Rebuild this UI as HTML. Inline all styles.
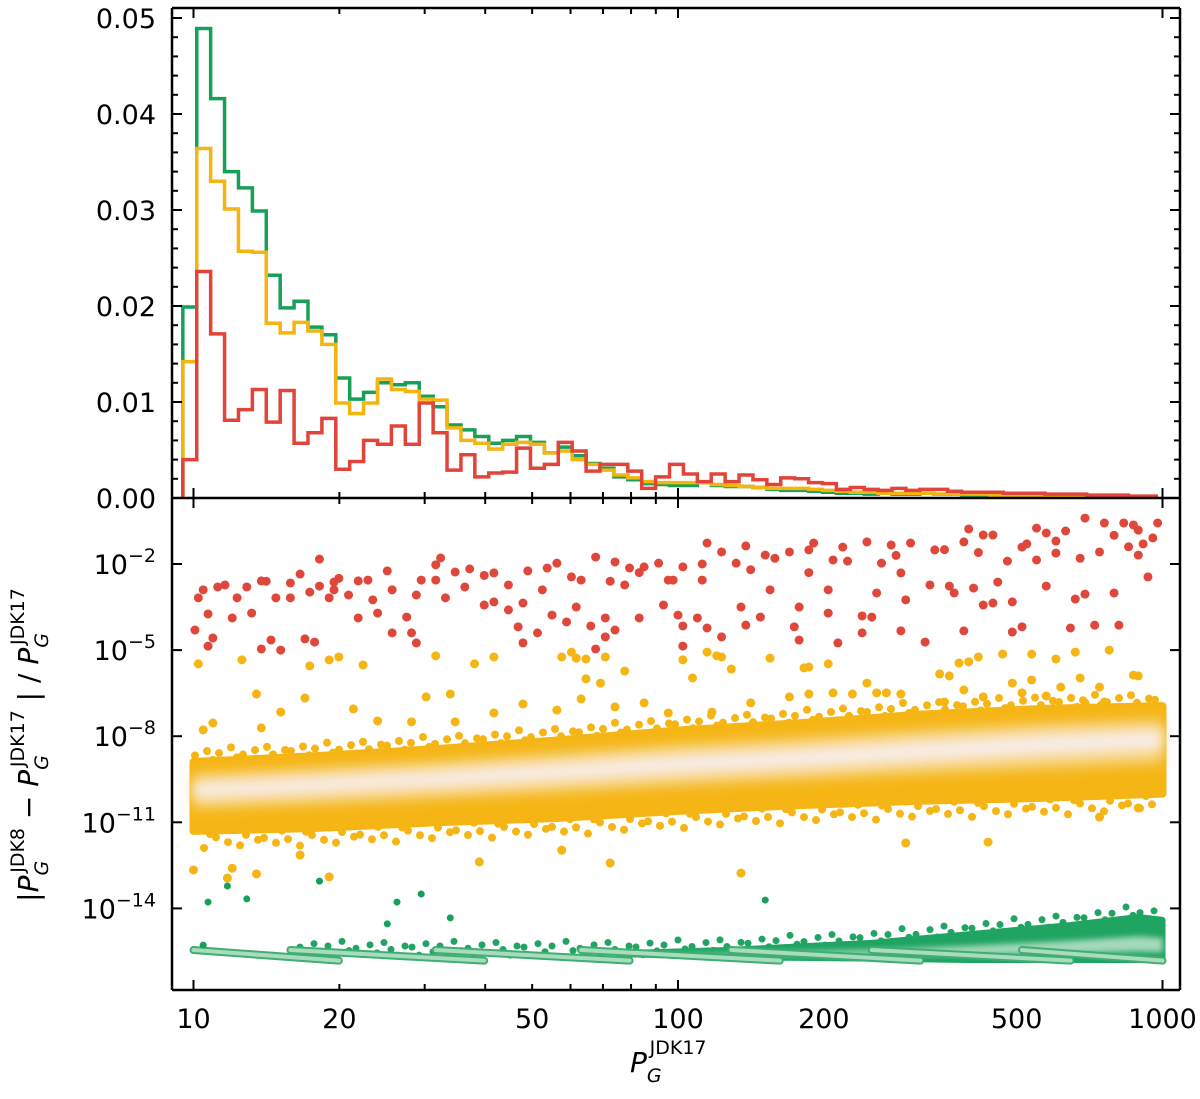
<!DOCTYPE html>
<html><head><meta charset="utf-8"><style>
html,body{margin:0;padding:0;background:#fff;}
svg{display:block;font-family:"DejaVu Sans","Liberation Sans",sans-serif;}
</style></head><body>
<svg id="chart" width="1200" height="1099" viewBox="0 0 1200 1099" xmlns="http://www.w3.org/2000/svg">
<defs>
<filter id="blur6" x="-10%" y="-50%" width="120%" height="200%"><feGaussianBlur stdDeviation="6"/></filter>
<filter id="blur3" x="-10%" y="-50%" width="120%" height="200%"><feGaussianBlur stdDeviation="3"/></filter>
<clipPath id="clipTop"><rect x="172" y="8" width="1008" height="490"/></clipPath>
<clipPath id="clipBot"><rect x="172" y="498" width="1008" height="492"/></clipPath>
</defs>
<g id="hist" clip-path="url(#clipTop)"></g>
<g id="scatter" clip-path="url(#clipBot)"></g>
<g id="axes"></g>
<text transform="translate(38,745) rotate(-90)" text-anchor="middle" font-size="28" fill="#000">|<tspan font-style="italic">P</tspan><tspan font-size="19" dy="10" font-style="italic">G</tspan><tspan font-size="19" dy="-24" dx="-12">JDK8</tspan><tspan dy="14"> − </tspan><tspan font-style="italic">P</tspan><tspan font-size="19" dy="10" font-style="italic">G</tspan><tspan font-size="19" dy="-24" dx="-12">JDK17</tspan><tspan dy="14"> | / </tspan><tspan font-style="italic">P</tspan><tspan font-size="19" dy="10" font-style="italic">G</tspan><tspan font-size="19" dy="-24" dx="-12">JDK17</tspan></text>
<text x="630" y="1072" font-size="28" fill="#000"><tspan font-style="italic">P</tspan><tspan font-size="19" dy="10" font-style="italic">G</tspan><tspan font-size="19" dy="-28" dx="-12">JDK17</tspan></text>
</svg>
<script>
// ---------- data ----------
const binStartLog = 0.978;
const binWidthLog = 0.0287;
const histGreen = [0.0199,0.0489,0.0416,0.0340,0.0323,0.0299,0.0232,0.0198,0.0205,0.0178,0.0170,0.0125,0.0103,0.0110,0.0120,0.0118,0.0120,0.0106,0.0095,0.0076,0.0071,0.0064,0.0057,0.0060,0.0064,0.0058,0.0047,0.0053,0.0044,0.0036,0.0031,0.0022,0.0019,0.0015,0.0014,0.0013,0.0013,0.0016,0.0013,0.0012,0.0012,0.0011,0.0009,0.0008,0.0008,0.0007,0.0006,0.0005,0.0005,0.0004,0.0005,0.0004,0.0004,0.0005,0.0004,0.0004,0.0003,0.0003,0.0003,0.0003,0.0003,0.0002,0.0002,0.0002,0.0002,0.0002,0.0002,0.0001,0.0001,0.0001];
const histYellow = [0.0142,0.0364,0.0330,0.0301,0.0257,0.0256,0.0182,0.0172,0.0183,0.0174,0.0160,0.0099,0.0088,0.0099,0.0124,0.0113,0.0111,0.0103,0.0102,0.0073,0.0060,0.0057,0.0051,0.0056,0.0058,0.0056,0.0047,0.0049,0.0040,0.0035,0.0029,0.0024,0.0021,0.0017,0.0016,0.0016,0.0016,0.0016,0.0014,0.0013,0.0012,0.0011,0.0010,0.0010,0.0010,0.0009,0.0008,0.0007,0.0006,0.0006,0.0005,0.0005,0.0005,0.0005,0.0004,0.0004,0.0004,0.0004,0.0003,0.0003,0.0003,0.0003,0.0002,0.0002,0.0002,0.0002,0.0002,0.0001,0.0001,0.0001];
const histRed = [0.0040,0.0236,0.0171,0.0081,0.0092,0.0113,0.0079,0.0112,0.0057,0.0068,0.0083,0.0030,0.0038,0.0060,0.0056,0.0075,0.0056,0.0099,0.0068,0.0029,0.0045,0.0022,0.0026,0.0027,0.0052,0.0031,0.0035,0.0058,0.0049,0.0028,0.0035,0.0035,0.0028,0.0010,0.0022,0.0035,0.0025,0.0017,0.0025,0.0017,0.0024,0.0019,0.0014,0.0021,0.0020,0.0016,0.0015,0.0009,0.0011,0.0009,0.0008,0.0010,0.0008,0.0009,0.0009,0.0007,0.0006,0.0006,0.0006,0.0005,0.0005,0.0005,0.0004,0.0004,0.0004,0.0003,0.0003,0.0003,0.0002,0.0002];

const redLogP = [1.003,1.01,1.02,1.03,1.03,1.04,1.05,1.065,1.08,1.09,1.11,1.12,1.14,1.14,1.16,1.17,1.18,1.2,1.2,1.22,1.23,1.24,1.25,1.26,1.26,1.28,1.29,1.29,1.32,1.34,1.34,1.36,1.37,1.38,1.40,1.41,1.41,1.44,1.45,1.46,1.46,1.47,1.50,1.51,1.50,1.52,1.54,1.56,1.57,1.60,1.62,1.62,1.65,1.65,1.67,1.68,1.68,1.69,1.71,1.73,1.74,1.75,1.77,1.78,1.79,1.80,1.82,1.83,1.83,1.85,1.85,1.87,1.87,1.89,1.90,1.92,1.93,1.96,1.97,1.98,1.99,2.00,2.01,2.01,2.01,2.04,2.05,2.06,2.06,2.09,2.09,2.12,2.13,2.14,2.14,2.17,2.18,2.19,2.23,2.24,2.25,2.25,2.27,2.28,2.31,2.31,2.32,2.33,2.34,2.38,2.38,2.39,2.40,2.41,2.42,2.44,2.46,2.46,2.47,2.48,2.51,2.52,2.53,2.56,2.57,2.59,2.59,2.60,2.61,2.63,2.63,2.65,2.65,2.66,2.69,2.69,2.71,2.71,2.74,2.74,2.76,2.76,2.78,2.80,2.81,2.82,2.84,2.84,2.86,2.87,2.88,2.90,2.91,2.92,2.94,2.95,2.95,2.97,2.98,2.99,2.35,2.45,2.55,2.62,2.68,2.72,2.78,2.83,2.9,2.93,2.96,2.05,2.15,2.2,2.27,1.92,1.86,1.72,1.6,1.3,1.15];
const redLogR = [-4.30,-3.18,-2.9,-4.86,-3.74,-4.58,-2.8,-2.73,-3.88,-3.18,-2.8,-3.71,-4.96,-2.59,-4.65,-3.18,-5.0,-2.66,-3.18,-2.35,-4.61,-2.98,-4.72,-1.83,-2.77,-3.18,-2.9,-2.63,-3.08,-2.59,-3.88,-2.56,-3.25,-3.71,-2.24,-4.4,-2.9,-3.85,-4.4,-4.75,-3.08,-2.56,-2.03,-1.79,-2.56,-3.18,-2.28,-2.8,-2.17,-3.43,-2.31,-3.32,-3.6,-2.73,-4.19,-4.75,-3.36,-2.24,-4.4,-2.14,-3.78,-1.97,-4.02,-2.45,-3.5,-2.56,-4.16,-1.76,-4.96,-4.54,-3.88,-1.93,-4.3,-2.73,-2.14,-3.88,-2.1,-1.97,-3.43,-2.56,-2.56,-3.78,-4.86,-2.10,-4.16,-3.88,-2.56,-1.27,-4.23,-1.58,-4.54,-1.97,-3.5,-4.13,-1.37,-3.85,-1.69,-2.9,-1.58,-4.19,-3.5,-4.65,-1.51,-1.27,-2.9,-3.71,-1.86,-4.75,-1.41,-4.4,-3.81,-1.23,-3.85,-3.01,-1.97,-1.34,-4.33,-2.31,-3.25,-1.27,-4.72,-2.73,-1.51,-2.77,-3.01,-4.33,-1.23,-0.78,-2.84,-0.99,-3.43,-0.99,-3.36,-2.63,-4.37,-3.32,-4.19,-1.41,-0.75,-1.86,-2.77,-0.92,-1.62,-0.85,-4.23,-3.22,-3.05,-0.40,-4.13,-1.58,-0.57,-3.01,-4.13,-0.57,-0.64,-1.69,-0.82,-2.45,-1.09,-0.57,-1.9,-1.7,-1.5,-1.6,-1.9,-1.3,-1.2,-1.8,-1.0,-1.4,-1.3,-2.0,-2.2,-1.8,-2.3,-2.3,-2.6,-2.9,-2.4,-2.5,-2.6];

const yelLogP = [1.01,1.10,1.13,1.24,1.28,1.30,1.35,1.23,1.18,1.33,1.50,1.48,1.53,1.58,1.62,1.76,1.78,1.79,1.81,1.81,1.84,1.85,1.89,1.80,1.02,1.04,1.14,1.38,1.45,1.54,1.62,1.68,1.75,1.87,1.93,2.01,2.03,2.06,2.08,2.09,2.11,2.19,2.26,2.27,2.31,2.39,2.41,2.46,2.54,2.56,2.58,2.60,2.62,2.59,2.67,2.69,2.73,2.73,2.76,2.78,2.79,2.82,2.83,2.87,2.89,2.94,2.95,1.98,2.07,2.15,2.23,2.27,2.32,2.36,2.43,2.55,2.63,2.71,2.84,2.88,1.0,1.07,1.13,1.28,1.08,1.59,2.13,1.86,2.64,2.47,2.95,2.87,1.76,1.22];
const yelLogR = [-5.48,-5.34,-6.53,-5.55,-5.34,-5.24,-5.52,-6.67,-7.16,-7.05,-5.2,-6.63,-6.53,-5.48,-5.24,-5.24,-5.07,-5.28,-5.31,-6.0,-6.15,-5.24,-5.73,-6.7,-7.78,-7.54,-7.71,-7.47,-7.5,-7.5,-7.19,-6.88,-7.09,-6.98,-6.84,-5.34,-5.97,-5.07,-5.2,-5.24,-5.66,-5.28,-5.62,-5.59,-5.48,-6.15,-6.49,-6.53,-5.83,-5.9,-5.45,-5.41,-5.24,-6.39,-5.14,-6.15,-5.14,-6.04,-6.6,-5.31,-6.29,-5.07,-5.97,-6.29,-5.0,-5.87,-5.9,-7.19,-7.16,-6.84,-6.63,-6.53,-6.49,-6.53,-6.49,-6.81,-6.63,-6.49,-6.84,-6.81,-12.66,-12.94,-12.8,-12.9,-12.6,-12.38,-12.77,-12.42,-11.69,-11.72,-10.5,-10.82,-11.97,-12.14];

const bandLogP = [1.0,1.25,1.5,1.75,2.0,2.25,2.5,2.75,3.0];
const bandUpper = [-8.9,-8.7,-8.45,-8.15,-7.8,-7.55,-7.25,-7.05,-6.95];
const bandCenter = [-9.9,-9.7,-9.5,-9.25,-9.0,-8.8,-8.55,-8.3,-8.1];
const bandLower = [-11.3,-11.2,-11.0,-10.85,-10.6,-10.4,-10.25,-10.15,-10.0];

const grnLogP = [1.02,1.03,1.07,1.11,1.26,1.40,1.42,1.47,1.53,2.18];
const grnLogR = [-15.28,-13.78,-13.22,-13.67,-13.05,-14.54,-13.78,-13.5,-14.33,-13.71];
const grnBandLogP = [1.9,2.1,2.4,2.6,2.8,2.95,3.0];
const grnBandUpper = [-15.55,-15.45,-15.2,-14.9,-14.6,-14.3,-14.4];
const grnBandLower = [-15.6,-15.7,-15.75,-15.8,-15.8,-15.8,-15.8];
const streakBreaks = [1.0,1.2,1.5,1.8,2.11,2.4,2.71,3.0];

const histTicks = [0,0.01,0.02,0.03,0.04,0.05];
const histTickLabels = ["0.00","0.01","0.02","0.03","0.04","0.05"];
const logRTicks = [-2,-5,-8,-11,-14];
const xTickVals = [10,20,50,100,200,500,1000];

// ---------- scales ----------
const X = lp => 193.5 + (lp - 1) * 484.5;
const Yh = v => 498 - v * 9600;
const Yb = lr => 564 - (lr + 2) * 28.7;
const NS = "http://www.w3.org/2000/svg";
function mk(tag, attrs, parent){ const e=document.createElementNS(NS,tag); for(const k in attrs) e.setAttribute(k,attrs[k]); parent.appendChild(e); return e; }
function interp(xs, ys, x){ if(x<=xs[0]) return ys[0]; for(let i=0;i<xs.length-1;i++){ if(x<=xs[i+1]){ const t=(x-xs[i])/(xs[i+1]-xs[i]); return ys[i]+t*(ys[i+1]-ys[i]); } } return ys[ys.length-1]; }

const hist = document.getElementById('hist');
const sc = document.getElementById('scatter');
const ax = document.getElementById('axes');

// ---------- histogram ----------
function drawHist(vals, color, name){
  let d = `M${X(binStartLog)},${Yh(0)}`;
  vals.forEach((v,i)=>{
    const x0 = X(binStartLog + i*binWidthLog), x1 = X(binStartLog + (i+1)*binWidthLog);
    d += ` L${x0},${Yh(v)} L${x1},${Yh(v)}`;
  });
  d += ` L${X(binStartLog + vals.length*binWidthLog)},${Yh(0)}`;
  const p = mk('path',{d:d,fill:'none',stroke:color,'stroke-width':3.5,'stroke-linejoin':'miter'},hist);
  
  
}
drawHist(histGreen,'#17a05a','hist-green');
drawHist(histYellow,'#f5b40f','hist-yellow');
drawHist(histRed,'#e2443a','hist-red');

// ---------- scatter ----------
function poly(xs, up, lo){
  let pts = xs.map((lp,i)=>`${X(lp)},${Yb(up[i])}`);
  for(let i=xs.length-1;i>=0;i--) pts.push(`${X(xs[i])},${Yb(lo[i])}`);
  return pts.join(' ');
}
const yb = mk('polygon',{points:poly(bandLogP,bandUpper,bandLower),fill:'#f5b514',stroke:'#f5b514','stroke-width':8,'stroke-linejoin':'round'},sc);


const jitter = [0.25,-0.1,0.4,0.05,0.3,-0.15,0.5,0.1,0.2,-0.05,0.35,0.0,0.45,0.15,-0.1,0.3];
for(let px=195, k=0; px<=1160; px+=6, k++){
  const lp = 1 + (px-193.5)/484.5;
  const up = interp(bandLogP,bandUpper,lp), lo = interp(bandLogP,bandLower,lp);
  const j = jitter[k%jitter.length];
  const c1 = mk('circle',{cx:px,cy:Yb(up + j*0.9),r:4,fill:'#f5b514'},sc);
  
  
  const c2 = mk('circle',{cx:px+3,cy:Yb(lo - jitter[(k+5)%jitter.length]*1.2),r:4,fill:'#f5b514'},sc);
  
  
}
const midU = bandCenter.map((c,i)=>c+(bandUpper[i]-c)*0.6), midL = bandCenter.map((c,i)=>c+(bandLower[i]-c)*0.45);
const ym = mk('polygon',{points:poly(bandLogP,midU,midL),fill:'#f8d27a',filter:'url(#blur6)'},sc);


const coreU = bandCenter.map((c,i)=>c+(bandUpper[i]-c)*0.3), coreL = bandCenter.map((c,i)=>c+(bandLower[i]-c)*0.2);
const yc = mk('polygon',{points:poly(bandLogP,coreU,coreL),fill:'#f8ece6',filter:'url(#blur6)'},sc);



yelLogP.forEach((lp,i)=>{
  const c = mk('circle',{cx:X(lp),cy:Yb(yelLogR[i]),r:4.5,fill:'#f5b514'},sc);
  
  
});
redLogP.forEach((lp,i)=>{
  const c = mk('circle',{cx:X(lp),cy:Yb(redLogR[i]),r:4.5,fill:'#e0473b'},sc);
  
  
});

// green band (drawn first, streaks on top)
const gb = mk('polygon',{points:poly(grnBandLogP,grnBandUpper,grnBandLower),fill:'#1fa462',stroke:'#1fa462','stroke-width':6,'stroke-linejoin':'round'},sc);


for(let px=300, k=0; px<=1160; px+=7, k++){
  const lp = 1 + (px-193.5)/484.5;
  const up = interp(grnBandLogP,grnBandUpper,lp);
  const c = mk('circle',{cx:px,cy:Yb(up + jitter[k%jitter.length]*0.8),r:3.5,fill:'#1fa462'},sc);
  
  
}
const gcU = grnBandLower.map((l,i)=>l+(grnBandUpper[i]-l)*0.55), gcL = grnBandLower.map((l,i)=>l+(grnBandUpper[i]-l)*0.2);
const gc = mk('polygon',{points:poly(grnBandLogP,gcU,gcL),fill:'#a6d9bb',filter:'url(#blur3)'},sc);


for(let i=0;i<streakBreaks.length-1;i++){
  const x0 = X(streakBreaks[i]), x1 = X(Math.min(streakBreaks[i+1]+0.1,3.0));
  const l1 = mk('line',{x1:x0,y1:Yb(-15.45),x2:x1,y2:Yb(-15.82),stroke:'#3fae72','stroke-width':8,'stroke-linecap':'round'},sc);
  
  
  const l2 = mk('line',{x1:x0,y1:Yb(-15.45),x2:x1,y2:Yb(-15.82),stroke:'#a8dcbc','stroke-width':4,'stroke-linecap':'round'},sc);
  
  
}
grnLogP.forEach((lp,i)=>{
  const c = mk('circle',{cx:X(lp),cy:Yb(grnLogR[i]),r:3.5,fill:'#17a05a'},sc);
  
  
});

// ---------- axes ----------
const L=172, R=1180, T=8, M=498, B=990;
function line(x1,y1,x2,y2,w){ return mk('line',{x1:x1,y1:y1,x2:x2,y2:y2,stroke:'#000','stroke-width':w},ax); }
[[L,T,L,B],[R,T,R,B],[L,T,R,T],[L,M,R,M],[L,B,R,B]].forEach(s=>{
  const e = line(s[0],s[1],s[2],s[3],2.5);
  
  
});
for(let dec=1; dec<=3; dec++){
  for(let m=1;m<=9;m++){
    const lp = dec-1+Math.log10(m);
    if(lp<0.98) continue;
    if(dec===3 && m>1) break;
    const x = X(lp), len = (m===1)?10:6;
    [[T,1],[M,-1],[M,1],[B,-1]].forEach(([y,dir])=>{
      const e = line(x,y,x,y+dir*len,2);
      
      
    });
  }
}
{ const x = X(3); [[T,1],[M,-1],[M,1],[B,-1]].forEach(([y,dir])=>{ const e=line(x,y,x,y+dir*10,2);   }); }
xTickVals.forEach(v=>{
  const t = mk('text',{x:X(Math.log10(v)),y:1028,'text-anchor':'middle','font-size':27,fill:'#000'},ax);
  t.textContent = v;
  
  
});
for(let k=0;k<=25;k++){
  const v = k*0.002, y = Yh(v), major = (k%5===0), len = major?10:6;
  if(y<T) continue;
  const a = line(L,y,L+len,y,2);  
  const b = line(R,y,R-len,y,2);  
}
histTicks.forEach((v,i)=>{
  const t = mk('text',{x:156,y:Yh(v)+10,'text-anchor':'end','font-size':27,fill:'#000'},ax);
  t.textContent = histTickLabels[i];
  
  
});
logRTicks.forEach(lr=>{
  const y = Yb(lr);
  const a = line(L,y,L+10,y,2);  
  const b = line(R,y,R-10,y,2);  
  const t = mk('text',{x:156,y:y+10,'text-anchor':'end','font-size':27,fill:'#000'},ax);
  
  
  const base = document.createElementNS(NS,'tspan'); base.textContent='10'; t.appendChild(base);
  const sup = document.createElementNS(NS,'tspan'); sup.setAttribute('dy','-12'); sup.setAttribute('font-size','19'); sup.textContent='\u2212'+(-lr); t.appendChild(sup);
});
</script>
</body></html>
